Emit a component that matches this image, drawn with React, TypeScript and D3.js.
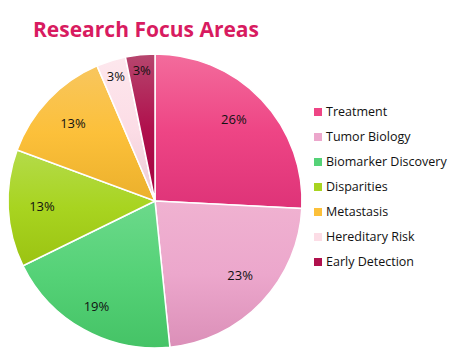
import { useEffect, useRef } from 'react';
import * as d3 from 'd3';

const categories = ['Treatment', 'Tumor Biology', 'Biomarker Discovery', 'Disparities', 'Metastasis', 'Hereditary Risk', 'Early Detection'];
const counts = [8, 7, 6, 4, 4, 1, 1];
// gradient stops per slice: top, middle, bottom
const colorsTop = ['#f36c9c', '#f0b2d1', '#6cd98b', '#b4db4a', '#f8c65e', '#fde7ed', '#b6466e'];
const colorsMid = ['#ee4585', '#eca7cc', '#55d277', '#a8d420', '#fcc03a', '#fcdde6', '#b0114d'];
const colorsBottom = ['#de3378', '#db8fb8', '#45c366', '#9bc312', '#ebb02c', '#ebcbd5', '#a3003e'];
const legendColors = ['#ee4585', '#eca7cc', '#55d277', '#a8d420', '#fcc03a', '#fcdde6', '#b0114d'];

const App = () => {
  const svgRef = useRef<SVGSVGElement>(null);

  useEffect(() => {
    const svg = d3.select(svgRef.current);
    svg.selectAll('*').remove();

    const width = 456;
    const height = 352;
    const cx = 155;
    const cy = 201;
    const r = 147;
    const font = "'Open Sans', 'DejaVu Sans', sans-serif";

    svg.attr('width', width).attr('height', height);

    const defs = svg.append('defs');
    categories.forEach((_, i) => {
      const g = defs.append('linearGradient')
        .attr('id', `grad${i}`)
        .attr('x1', 0).attr('y1', 0).attr('x2', 0).attr('y2', 1);
      g.append('stop').attr('offset', '0%').attr('stop-color', colorsTop[i]);
      g.append('stop').attr('offset', '50%').attr('stop-color', colorsMid[i]);
      g.append('stop').attr('offset', '100%').attr('stop-color', colorsBottom[i]);
    });

    // Title
    svg.append('text')
      .attr('x', 33)
      .attr('y', 37)
      .style('font-family', font)
      .style('font-size', '21px')
      .style('font-weight', 'bold')
      .attr('fill', '#d81b60')
      .text('Research Focus Areas');

    const total = d3.sum(counts);
    const pie = d3.pie<number>().sort(null).value(d => d);
    const arcs = pie(counts);
    const arc = d3.arc<d3.PieArcDatum<number>>().innerRadius(0).outerRadius(r);

    const chart = svg.append('g').attr('transform', `translate(${cx},${cy})`);

    chart.selectAll('path.slice')
      .data(arcs)
      .enter()
      .append('path')
      .attr('class', 'slice')
      .attr('d', arc)
      .attr('fill', (_, i) => `url(#grad${i})`)
      .attr('stroke', '#fff')
      .attr('stroke-width', 1.5);

    // Percentage labels
    chart.selectAll('text.label')
      .data(arcs)
      .enter()
      .append('text')
      .attr('class', 'label')
      .attr('transform', d => {
        const share = d.value / total;
        const lr = share < 0.05 ? r * 0.89 : share > 0.15 && share < 0.2 ? r * 0.82 : r * 0.77;
        const a = (d.startAngle + d.endAngle) / 2 - (share > 0.2 ? 0.04 : 0);
        return `translate(${Math.sin(a) * lr},${-Math.cos(a) * lr})`;
      })
      .attr('text-anchor', 'middle')
      .attr('dy', '0.35em')
      .style('font-family', font)
      .style('font-size', '13px')
      .attr('fill', '#111')
      .text(d => `${Math.round((d.value / total) * 100)}%`);

    // Legend
    const legend = svg.append('g').attr('transform', 'translate(314, 112)');
    categories.forEach((name, i) => {
      legend.append('rect')
        .attr('x', 0)
        .attr('y', i * 25 - 4)
        .attr('width', 8)
        .attr('height', 8)
        .attr('fill', legendColors[i]);
      legend.append('text')
        .attr('x', 12)
        .attr('y', i * 25)
        .attr('dy', '0.35em')
        .style('font-family', font)
        .style('font-size', '12.5px')
        .attr('fill', '#111')
        .text(name);
    });
  }, []);

  return <svg ref={svgRef} style={{ position: 'absolute', left: 0, top: 0 }}></svg>;
};

export default App;
